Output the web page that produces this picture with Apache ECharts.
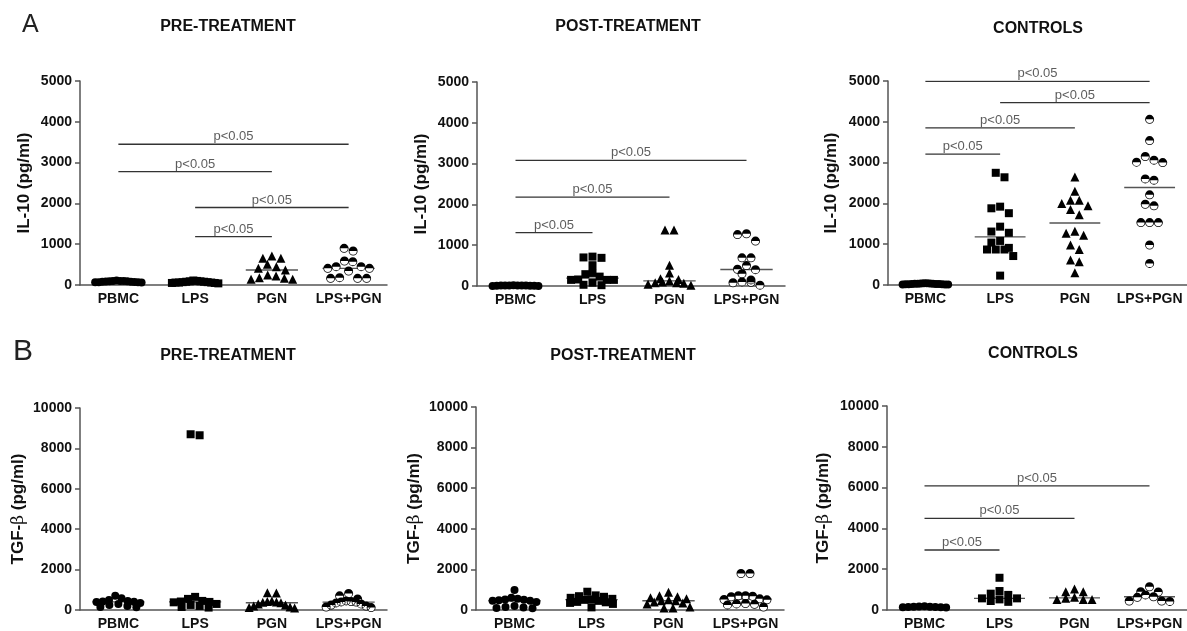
<!DOCTYPE html>
<html>
<head>
<meta charset="utf-8">
<script src="https://cdn.jsdelivr.net/npm/echarts@6/dist/echarts.min.js"></script>
<style>
html,body{margin:0;padding:0;background:#fff;}
#chart{width:1187px;height:631px;}
</style>
</head>
<body>
<div id="chart"></div>
<script>
// ---------- data ----------
const categories = ['PBMC', 'LPS', 'PGN', 'LPS+PGN'];

// IL-10 (pg/ml), panel A
const il10PrePBMC   = [80, 90, 70, 100, 60, 85, 95, 75, 110, 65, 90, 80, 70, 100];
const il10PreLPS    = [110, 100, 90, 80, 70, 60, 60, 50, 50, 40, 70, 80, 90, 60];
const il10PrePGN    = [711, 654, 654, 507, 449, 409, 368, 245, 220, 180, 163, 143, 143];
const il10PreLPSPGN = [899, 833, 588, 572, 449, 449, 409, 409, 343, 180, 163, 163, 163];

const il10PostPBMC   = [10, 5, 15, 0, 10, 20, 5, 10, 15, 0, 10, 5];
const il10PostLPS    = [720, 700, 690, 510, 320, 290, 230, 160, 150, 150, 150, 80, 30, 20];
const il10PostPGN    = [1370, 1370, 510, 320, 180, 160, 125, 100, 80, 80, 70, 40, 20];
const il10PostLPSPGN = [1280, 1260, 1100, 690, 690, 500, 410, 400, 300, 150, 100, 90, 80, 20];

const il10CtrlPBMC   = [20, 30, 25, 35, 15, 40, 20, 30, 25, 10, 35, 20, 30, 15, 25, 40];
const il10CtrlLPS    = [2750, 2640, 1920, 1880, 1760, 1430, 1310, 1280, 1080, 1040, 910, 870, 870, 870, 710, 230];
const il10CtrlPGN    = [2650, 2300, 2080, 2080, 2000, 1940, 1850, 1720, 1320, 1270, 1220, 980, 870, 610, 570, 300];
const il10CtrlLPSPGN = [4060, 3540, 3150, 3060, 3010, 3000, 2600, 2570, 2210, 1980, 1940, 1530, 1530, 1530, 980, 530];

// TGF-beta (pg/ml), panel B
const tgfPrePBMC   = [700, 580, 500, 450, 420, 410, 400, 350, 300, 250, 200, 150, 130];
const tgfPreLPS    = [8700, 8650, 650, 550, 450, 420, 400, 380, 300, 250, 200, 150, 120];
const tgfPrePGN    = [850, 840, 450, 420, 400, 380, 360, 300, 250, 200, 150, 120, 100];
const tgfPreLPSPGN = [820, 700, 550, 450, 420, 400, 390, 350, 300, 250, 200, 150, 120];

const tgfPostPBMC   = [980, 600, 550, 520, 500, 480, 460, 450, 400, 200, 150, 120, 100, 90];
const tgfPostLPS    = [900, 720, 680, 650, 600, 550, 520, 500, 450, 400, 380, 350, 300, 130];
const tgfPostPGN    = [870, 700, 650, 600, 550, 500, 460, 450, 400, 350, 300, 150, 100, 100];
const tgfPostLPSPGN = [1800, 1800, 700, 700, 680, 650, 550, 520, 500, 320, 300, 280, 250, 150];

const tgfCtrlPBMC   = [180, 170, 160, 160, 150, 150, 140, 130, 120];
const tgfCtrlLPS    = [1580, 930, 800, 740, 570, 570, 520, 440, 400];
const tgfCtrlPGN    = [1030, 900, 900, 620, 570, 520, 520, 520];
const tgfCtrlLPSPGN = [1140, 900, 880, 740, 650, 620, 440, 440, 420];

// significance bars: [fromCategoryIndex, toCategoryIndex, height]
const il10PreSig  = [[0, 3, 3450], [0, 2, 2780], [1, 3, 1900], [1, 2, 1185]];
const il10PostSig = [[0, 3, 3080], [0, 2, 2180], [0, 1, 1310]];
const il10CtrlSig = [[0, 3, 4990], [1, 3, 4470], [0, 2, 3850], [0, 1, 3210]];
const tgfCtrlSig  = [[0, 3, 6080], [0, 2, 4490], [0, 1, 2940]];
const sigText = 'p<0.05';

// ---------- layout ----------
const FONT = '"Liberation Sans", Arial, sans-serif';
const HALF = 'path://M0,10 A10,10 0 0 1 20,10 Z M0,10 A10,10 0 0 0 20,10 L18.2,10 A8.2,8.2 0 0 1 1.8,10 Z';
const symbols = ['circle', 'rect', 'triangle', HALF];
const symbolSizes = [8, 8, 9, 9];

const panels = [
  {groups: [il10PrePBMC, il10PreLPS, il10PrePGN, il10PreLPSPGN], sig: il10PreSig,
   left: 80, top: 81, width: 307, height: 204, max: 5000, interval: 1000,
   title: 'PRE-TREATMENT', tx: 228, ty: 19, name: 'IL-10 (pg/ml)', gap: 47},
  {groups: [il10PostPBMC, il10PostLPS, il10PostPGN, il10PostLPSPGN], sig: il10PostSig,
   left: 477, top: 82, width: 308, height: 204, max: 5000, interval: 1000,
   title: 'POST-TREATMENT', tx: 628, ty: 19, name: 'IL-10 (pg/ml)', gap: 47},
  {groups: [il10CtrlPBMC, il10CtrlLPS, il10CtrlPGN, il10CtrlLPSPGN], sig: il10CtrlSig,
   left: 888, top: 81, width: 308, height: 204, max: 5000, interval: 1000,
   title: 'CONTROLS', tx: 1038, ty: 21, name: 'IL-10 (pg/ml)', gap: 48},
  {groups: [tgfPrePBMC, tgfPreLPS, tgfPrePGN, tgfPreLPSPGN], sig: [],
   left: 80, top: 408, width: 307, height: 204, max: 10000, interval: 2000,
   title: 'PRE-TREATMENT', tx: 228, ty: 348, name: 'TGF-{b|β} (pg/ml)', gap: 53},
  {groups: [tgfPostPBMC, tgfPostLPS, tgfPostPGN, tgfPostLPSPGN], sig: [],
   left: 476, top: 407, width: 308, height: 204, max: 10000, interval: 2000,
   title: 'POST-TREATMENT', tx: 623, ty: 348, name: 'TGF-{b|β} (pg/ml)', gap: 53},
  {groups: [tgfCtrlPBMC, tgfCtrlLPS, tgfCtrlPGN, tgfCtrlLPSPGN], sig: tgfCtrlSig,
   left: 887, top: 406, width: 308, height: 204, max: 10000, interval: 2000,
   title: 'CONTROLS', tx: 1033, ty: 346, name: 'TGF-{b|β} (pg/ml)', gap: 55}
];

// Prism-like column scatter: points at similar heights are spread side by side
function swarm(vals, yMax, gridH, catW) {
  const ROW_PX = 7.5, STEP_PX = 9, MAX_SPREAD = 50;
  const ppu = gridH / yMax;
  const order = vals.map((v, i) => i).sort((a, b) => vals[b] - vals[a]);
  const rows = [];
  let cur = null;
  order.forEach(i => {
    const y = vals[i] * ppu;
    if (cur && cur.top - y < ROW_PX) cur.items.push(i);
    else { cur = {top: y, items: [i]}; rows.push(cur); }
  });
  const off = new Array(vals.length).fill(0);
  rows.forEach(r => {
    const n = r.items.length;
    const s = Math.min(STEP_PX, MAX_SPREAD / n);
    const slots = [];
    for (let k = 0; k < n; k++) slots.push((k - (n - 1) / 2) * s);
    slots.sort((a, b) => Math.abs(a) - Math.abs(b) || a - b);
    r.items.forEach((idx, k) => { off[idx] = slots[k] / catW; });
  });
  return off;
}
function median(arr) {
  const s = arr.slice().sort((a, b) => a - b);
  const m = Math.floor(s.length / 2);
  return s.length % 2 ? s[m] : (s[m - 1] + s[m]) / 2;
}

const grid = [], xAxis = [], yAxis = [], series = [], title = [];
const axisColor = '#555';

title.push({text: 'A', left: 22, top: 13, padding: 0,
  textStyle: {fontFamily: FONT, fontSize: 25, fontWeight: 'normal', color: '#222'}});
title.push({text: 'B', left: 13, top: 337, padding: 0,
  textStyle: {fontFamily: FONT, fontSize: 30, fontWeight: 'normal', color: '#222'}});

panels.forEach((p, g) => {
  grid.push({left: p.left, top: p.top, width: p.width, height: p.height, containLabel: false});
  title.push({text: p.title, left: p.tx, top: p.ty, textAlign: 'center', padding: 0,
    textStyle: {fontFamily: FONT, fontSize: 16, fontWeight: 'bold', color: '#111'}});
  xAxis.push({
    type: 'category', gridIndex: g, data: categories, boundaryGap: true,
    axisLine: {onZero: false, lineStyle: {color: axisColor, width: 1.5}},
    axisTick: {alignWithLabel: true, length: 5, lineStyle: {color: axisColor, width: 1.5}},
    axisLabel: {fontFamily: FONT, fontSize: 14, fontWeight: 'bold', color: '#111', margin: 7, interval: 0},
    splitLine: {show: false}
  });
  xAxis.push({type: 'value', gridIndex: g, min: -0.5, max: 3.5, show: false});
  yAxis.push({
    type: 'value', gridIndex: g, min: 0, max: p.max, interval: p.interval,
    name: p.name, nameLocation: 'middle', nameGap: p.gap, nameRotate: 90,
    nameTextStyle: {fontFamily: FONT, fontSize: 17, fontWeight: 'bold', color: '#111',
      rich: {b: {fontFamily: '"DejaVu Serif", serif', fontSize: 17, fontWeight: 'normal', color: '#111'}}},
    axisLine: {show: true, onZero: false, lineStyle: {color: axisColor, width: 1.5}},
    axisTick: {show: true, length: 5, lineStyle: {color: axisColor, width: 1.5}},
    axisLabel: {fontFamily: FONT, fontSize: 14, fontWeight: 'bold', color: '#111', margin: 8,
      formatter: v => String(v)},
    splitLine: {show: false}
  });
  const vx = 2 * g + 1;
  const catW = p.width / categories.length;
  p.groups.forEach((vals, c) => {
    const off = swarm(vals, p.max, p.height, catW);
    const pts = vals.map((v, k) => [c + off[k], v]);
    if (symbols[c] === HALF) {
      // white disc under the half-filled marker
      series.push({
        type: 'scatter', xAxisIndex: vx, yAxisIndex: g, z: 3, silent: true,
        symbol: 'circle', symbolSize: symbolSizes[c] - 1,
        itemStyle: {color: '#fff', opacity: 1}, data: pts
      });
    }
    series.push({
      type: 'scatter', xAxisIndex: vx, yAxisIndex: g, z: 4, silent: true,
      symbol: symbols[c], symbolSize: symbolSizes[c], symbolKeepAspect: true,
      itemStyle: {color: '#000', opacity: 1},
      data: pts
    });
    const m = median(vals);
    series.push({
      type: 'line', xAxisIndex: vx, yAxisIndex: g, z: 2, silent: true, symbol: 'none',
      lineStyle: {color: '#555', width: 1.3},
      data: [[c - 0.34, m], [c + 0.34, m]]
    });
  });
  p.sig.forEach(s => {
    series.push({
      type: 'line', xAxisIndex: vx, yAxisIndex: g, z: 2, silent: true, symbol: 'none',
      lineStyle: {color: '#333', width: 1.3},
      data: [[s[0], s[2]], [s[1], s[2]]]
    });
    series.push({
      type: 'scatter', xAxisIndex: vx, yAxisIndex: g, z: 2, silent: true, symbolSize: 0,
      label: {show: true, position: 'top', distance: 1, formatter: sigText,
        fontFamily: FONT, fontSize: 13, color: '#333'},
      data: [[(s[0] + s[1]) / 2, s[2]]]
    });
  });
});

const chart = echarts.init(document.getElementById('chart'), null, {renderer: 'canvas'});
chart.setOption({
  animation: false,
  backgroundColor: '#fff',
  title: title, grid: grid, xAxis: xAxis, yAxis: yAxis, series: series
});
</script>
</body>
</html>
